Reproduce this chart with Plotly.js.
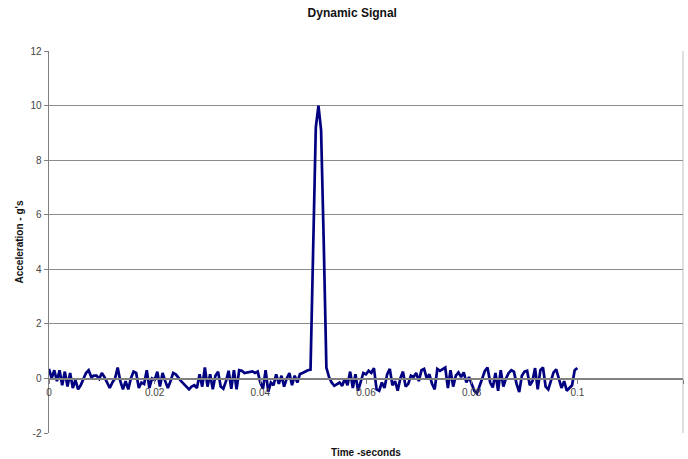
<!DOCTYPE html>
<html>
<head>
<meta charset="utf-8">
<script src="https://cdn.plot.ly/plotly-3.0.1.min.js"></script>
<style>
  html, body { margin: 0; padding: 0; background: #ffffff; }
  #chart { width: 688px; height: 459px; }
</style>
</head>
<body>
<div id="chart"></div>
<script>
// Sampling of the signal (seconds)
var startTime = 0;
var sampleStep = 0.0005;

// Acceleration values (g's), one per sample
var accelSeg1 = [0.35, 0.0, 0.3, -0.1, 0.3, -0.25, 0.25, -0.3, 0.2, -0.35,
  -0.05, -0.4, -0.25, -0.05, 0.2, 0.3, 0.05, 0.1, 0.1, -0.02,
  0.2, 0.05, -0.15, -0.35, -0.15, 0.0, 0.4, -0.1, -0.4, -0.1,
  -0.4, 0.0, 0.25];
var accelSeg2 = [0.2, -0.35, -0.15, -0.2, 0.3, -0.35, 0.0, -0.05, 0.25, -0.3,
  0.2, -0.1, -0.35, -0.1, 0.2, 0.15, 0.0, -0.1, -0.2, -0.3,
  -0.4, -0.3, -0.25, -0.35, 0.15, -0.3, 0.4, -0.3, 0.15, -0.4,
  0.1, 0.25, -0.3];
var accelSeg3 = [-0.38, -0.1, 0.28, -0.38, 0.3, -0.4, 0.3, 0.28, 0.2, 0.22,
  0.25, 0.26, 0.2, 0.25, -0.15, -0.38, 0.3, -0.48, -0.15, -0.25,
  0.15, -0.2, 0.1, -0.3, 0.0, 0.2, -0.25, 0.1, -0.15, 0.16,
  0.2, 0.26, 0.3, 0.32];
var accelPulse = [4.5, 9.2, 10.0, 9.1, 5.0, 0.4];
var accelSeg4 = [0.05, -0.15, -0.27, -0.2, -0.15, -0.27, 0.0, -0.25, 0.25, -0.35,
  0.15, -0.45, -0.1, 0.2, 0.15, 0.28, 0.2, 0.38, -0.4, -0.45,
  -0.15, -0.35, 0.15, 0.35];
var accelSeg5 = [-0.25, -0.1, -0.45, 0.0, 0.25, -0.3, -0.2, 0.1, 0.05, 0.2,
  -0.1, 0.3, 0.35, 0.0, 0.15, -0.2, -0.4, 0.35, 0.28, 0.35,
  0.4, -0.35, 0.3, -0.3, 0.1, 0.22, 0.05, 0.22, -0.15, 0.05,
  -0.2, -0.45, -0.55, -0.3, 0.0, 0.28, 0.4];
var accelSeg6 = [-0.15, -0.33, 0.2, -0.45, 0.3, -0.3, 0.0, 0.2, 0.3, 0.25,
  -0.2, -0.5, 0.1, 0.25, 0.28, -0.25, -0.1, 0.38, -0.4, 0.3,
  0.4, -0.3, -0.4, -0.1, 0.22, 0.33, 0.0, -0.35, -0.1, -0.45,
  -0.35, -0.25, 0.3, 0.38];

var acceleration = [].concat(accelSeg1, accelSeg2, accelSeg3, accelPulse, accelSeg4, accelSeg5, accelSeg6);

var xTickValues = [0, 0.02, 0.04, 0.06, 0.08, 0.1, 0.12];
var xTickLabels = ['0', '0.02', '0.04', '0.06', '0.08', '0.1', '0.12'];
var yTickValues = [-2, 0, 2, 4, 6, 8, 10, 12];
var yTickLabels = ['-2', '0', '2', '4', '6', '8', '10', '12'];

var FONT = "'Liberation Sans', Arial, sans-serif";

var trace = {
  type: 'scatter',
  mode: 'lines',
  x0: startTime,
  dx: sampleStep,
  y: acceleration,
  line: { color: '#000080', width: 2.7 },
  hoverinfo: 'skip',
  showlegend: false
};

var layout = {
  width: 688,
  height: 459,
  margin: { l: 49, r: 5, t: 51, b: 26, pad: 0 },
  paper_bgcolor: '#ffffff',
  plot_bgcolor: '#ffffff',
  font: { family: FONT, size: 10, color: '#333333' },
  title: {
    text: '<b>Dynamic Signal</b>',
    font: { family: FONT, size: 12, color: '#111111' },
    x: 0.512, xref: 'container', xanchor: 'center',
    y: 0.972, yref: 'container', yanchor: 'middle'
  },
  xaxis: {
    range: [0, 0.12],
    tickvals: xTickValues,
    ticktext: xTickLabels,
    anchor: 'free',
    position: 2 / 14,
    showgrid: false,
    zeroline: false,
    showline: true,
    linecolor: '#808080',
    linewidth: 1.5,
    ticks: 'outside',
    ticklen: 4,
    tickcolor: '#808080',
    tickfont: { family: FONT, size: 10, color: '#444444' },
    fixedrange: true
  },
  yaxis: {
    range: [-2, 12],
    tickvals: yTickValues,
    ticktext: yTickLabels,
    showgrid: true,
    gridcolor: '#8c8c8c',
    gridwidth: 1,
    zeroline: false,
    showline: true,
    linecolor: '#808080',
    linewidth: 1.5,
    ticks: 'outside',
    ticklen: 4,
    tickcolor: '#808080',
    tickfont: { family: FONT, size: 10, color: '#444444' },
    title: {
      text: "<b>Acceleration - g's</b>",
      font: { family: FONT, size: 10, color: '#111111' },
      standoff: 5
    },
    fixedrange: true
  },
  shapes: [
    { type: 'line', xref: 'paper', yref: 'paper', x0: 1, x1: 1, y0: 0, y1: 1,
      line: { color: '#c0c0c0', width: 1 }, layer: 'below' }
  ],
  annotations: [
    { text: '<b>Time -seconds</b>', xref: 'paper', yref: 'paper',
      x: 0.5, y: 0, yshift: -19, xanchor: 'center', yanchor: 'middle',
      showarrow: false, font: { family: FONT, size: 10, color: '#111111' } }
  ]
};

Plotly.newPlot('chart', [trace], layout, { staticPlot: true, displayModeBar: false });
</script>
</body>
</html>
